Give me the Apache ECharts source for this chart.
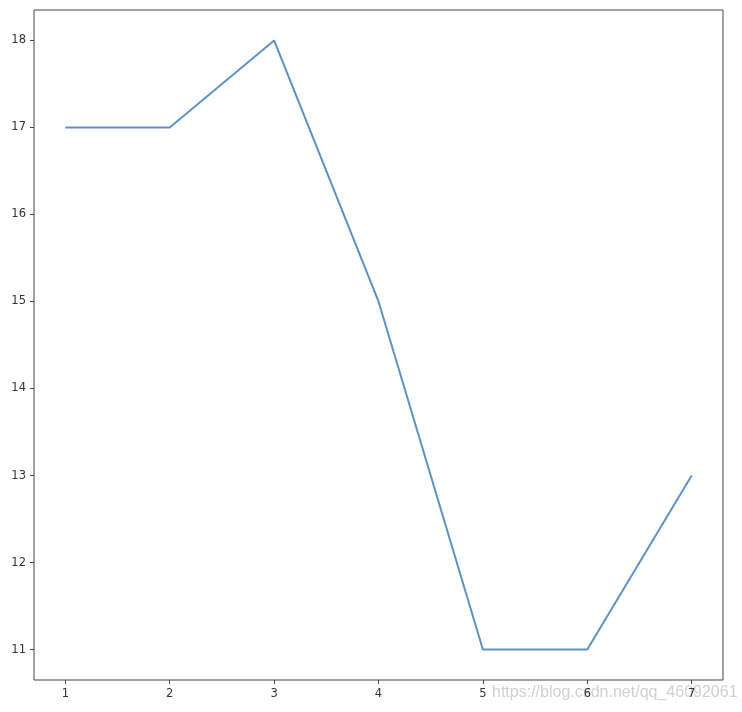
<!DOCTYPE html>
<html><head><meta charset="utf-8">
<script src="https://cdn.jsdelivr.net/npm/echarts@6/dist/echarts.min.js"></script>
<style>html,body{margin:0;padding:0;background:#fff}#c{width:742px;height:712px}</style>
</head><body><div id="c"></div>
<script>
const xValues = [1, 2, 3, 4, 5, 6, 7];
const yValues = [17, 17, 18, 15, 11, 11, 13];
const xTicks = [1, 2, 3, 4, 5, 6, 7];
const yTicks = [11, 12, 13, 14, 15, 16, 17, 18];
const watermark = 'https://blog.csdn.net/qq_46092061';

const chart = echarts.init(document.getElementById('c'), null, {renderer: 'canvas'});
const labelStyle = {color: '#333', fontSize: 11.5, fontFamily: 'DejaVu Sans'};
chart.setOption({
  animation: false,
  grid: {left: 34, right: 19, top: 10, bottom: 32, show: true, borderColor: '#444', borderWidth: 1, backgroundColor: '#fff'},
  xAxis: {
    type: 'value', min: 0.7, max: 7.3,
    axisLine: {show: false},
    splitLine: {show: false},
    axisTick: {show: true, customValues: xTicks, length: 4, lineStyle: {color: '#444'}},
    axisLabel: Object.assign({customValues: xTicks, margin: 8}, labelStyle)
  },
  yAxis: {
    type: 'value', min: 10.65, max: 18.35,
    axisLine: {show: false},
    splitLine: {show: false},
    axisTick: {show: true, customValues: yTicks, length: 4, lineStyle: {color: '#444'}},
    axisLabel: Object.assign({customValues: yTicks, margin: 8}, labelStyle)
  },
  series: [{
    type: 'line',
    data: xValues.map((x, i) => [x, yValues[i]]),
    symbol: 'none',
    lineStyle: {color: '#5f92c0', width: 2}
  }],
  graphic: [{
    type: 'text', left: 492, top: 685,
    style: {text: watermark, fill: 'rgba(200,200,200,0.85)', font: '16px "Liberation Sans", Arial'}
  }]
});
</script></body></html>
